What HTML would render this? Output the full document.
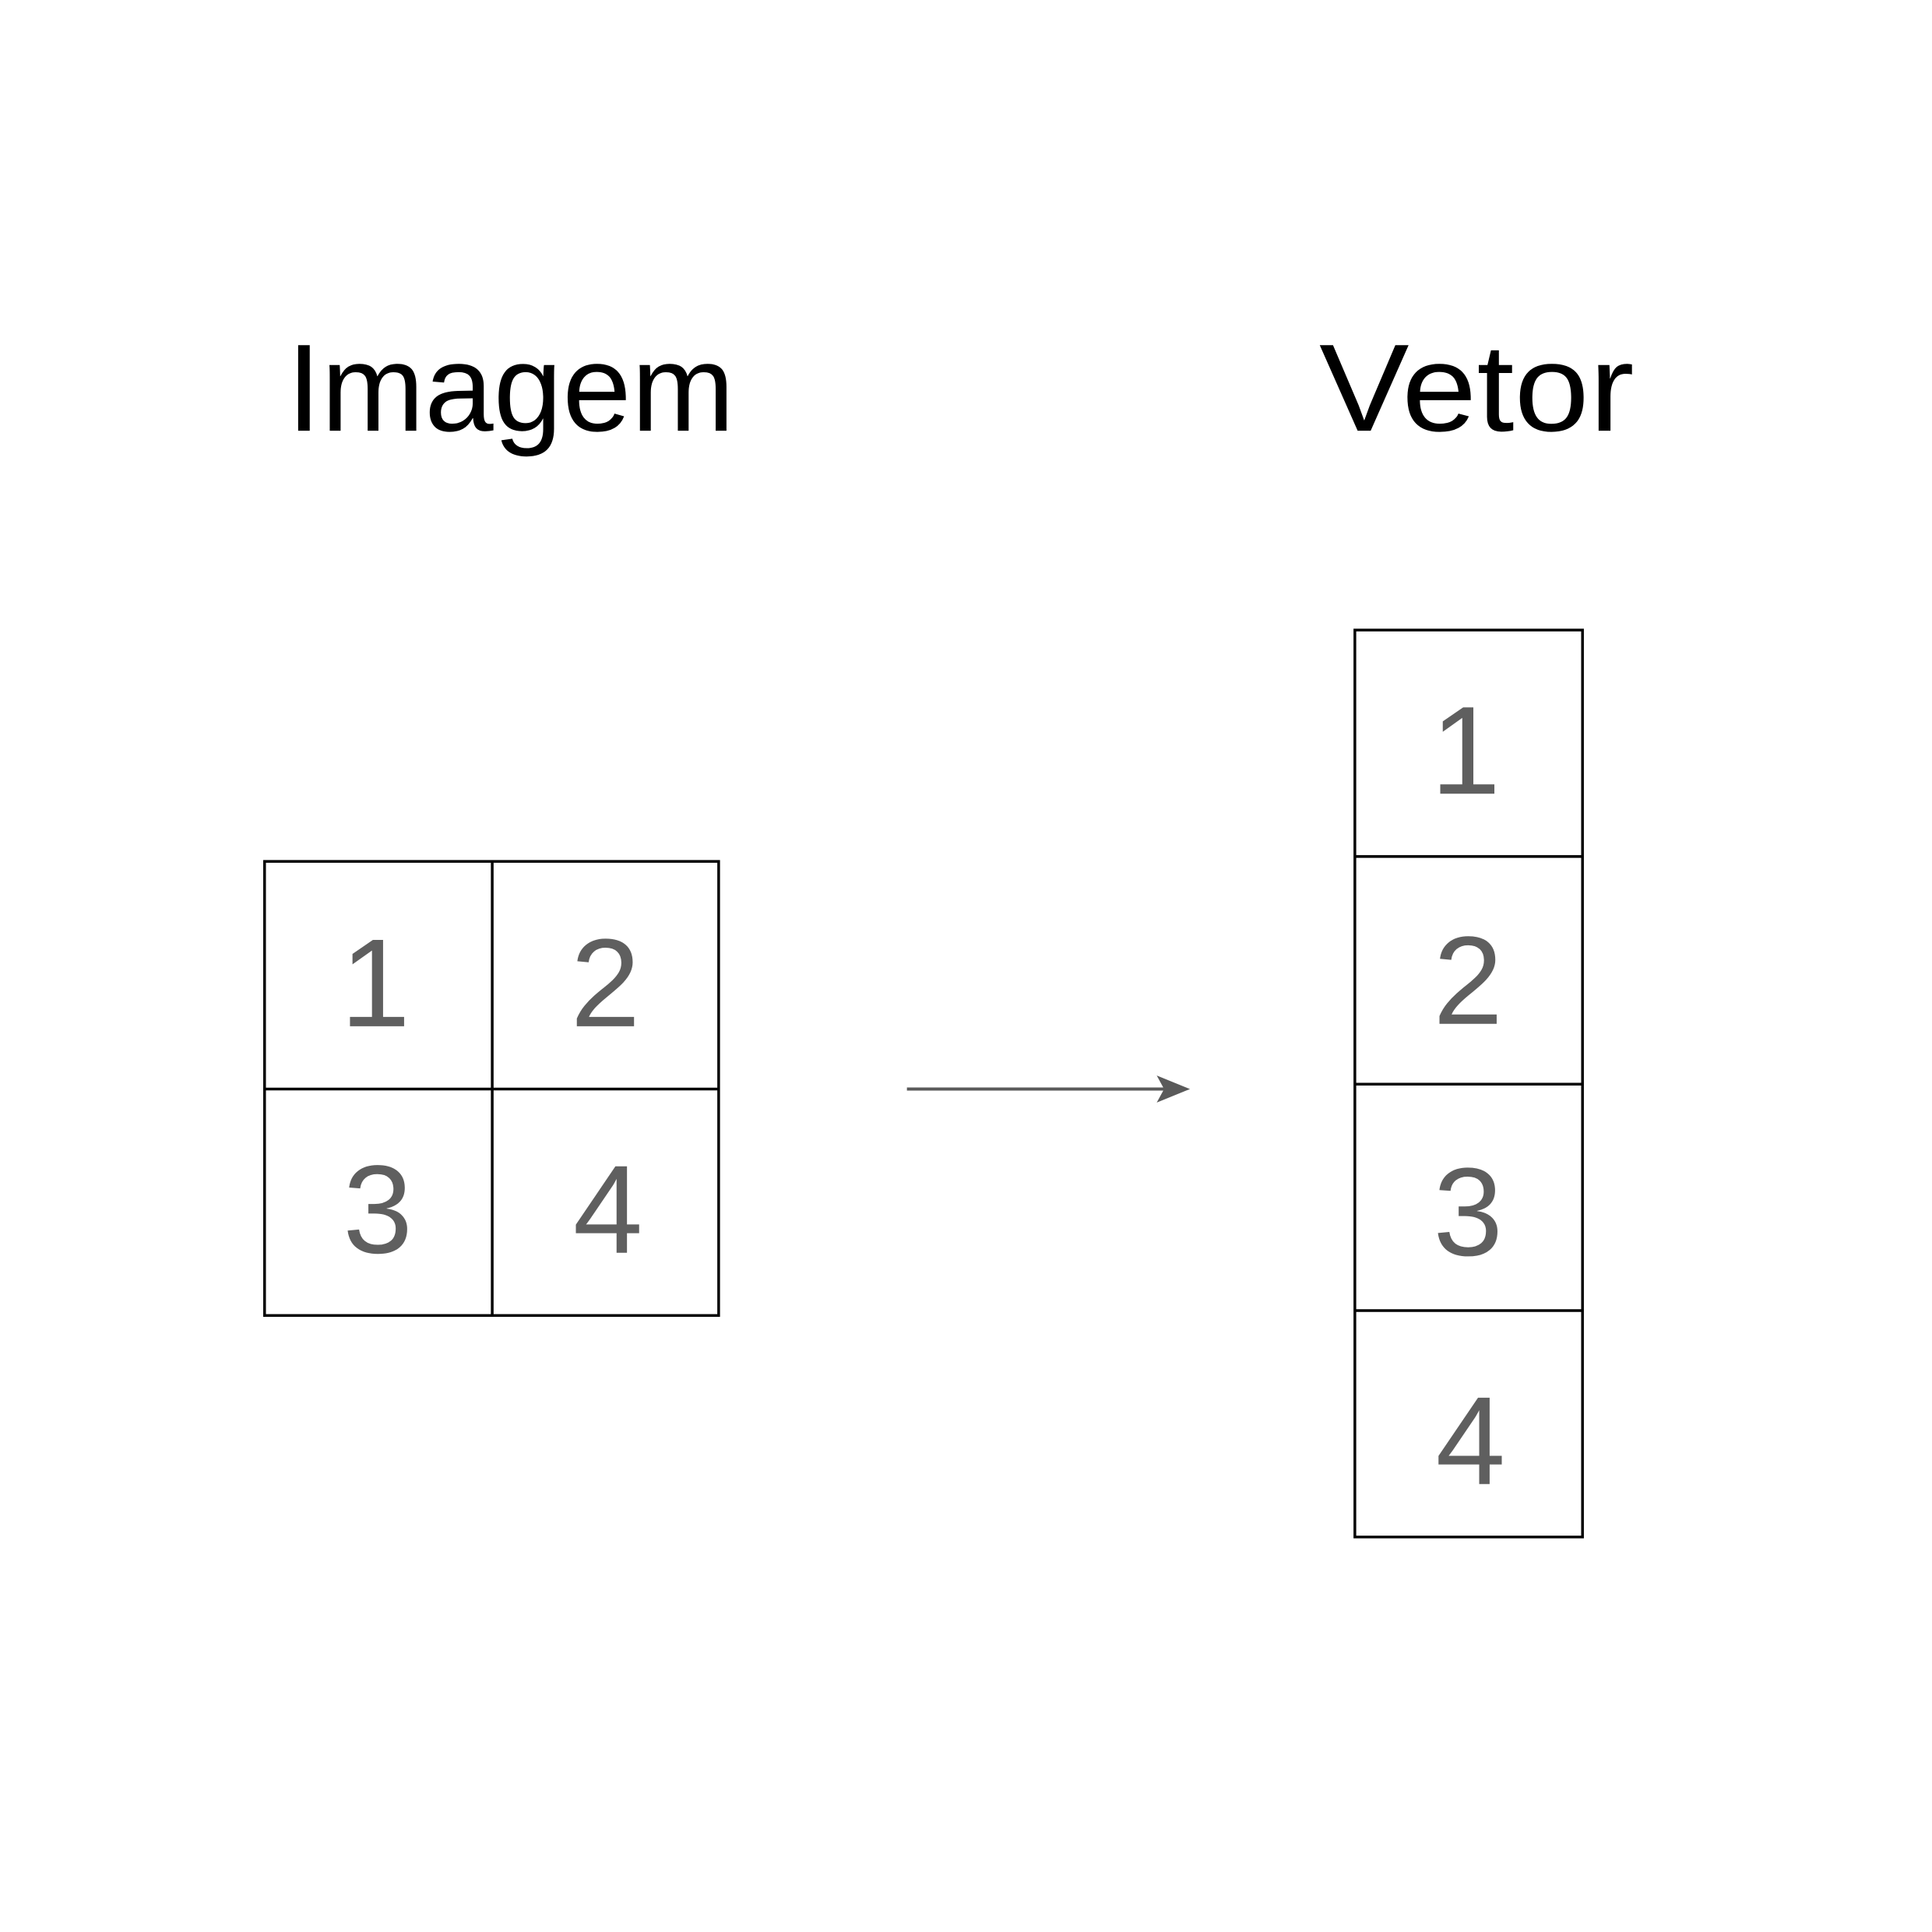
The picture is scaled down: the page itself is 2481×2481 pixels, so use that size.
<!DOCTYPE html>
<html>
<head>
<meta charset="utf-8">
<style>
  html, body { margin: 0; padding: 0; background: #fff; }
  svg { display: block; }
  text { font-family: "Liberation Sans", "DejaVu Sans", sans-serif; }
</style>
</head>
<body>
<svg width="2481" height="2481" viewBox="0 0 1570 1570" xmlns="http://www.w3.org/2000/svg">
  <rect width="1570" height="1570" fill="#fff"/>
  <text x="233" y="350" font-size="101" fill="#000" textLength="364" lengthAdjust="spacingAndGlyphs">Imagem</text>
  <text x="1072" y="350" font-size="101" fill="#000" textLength="256" lengthAdjust="spacingAndGlyphs">Vetor</text>

  <g fill="none" stroke="#000" stroke-width="2.2">
    <rect x="215" y="700" width="369" height="369"/>
    <line x1="400" y1="700" x2="400" y2="1069"/>
    <line x1="215" y1="885" x2="584" y2="885"/>
  </g>
  <g font-size="102" fill="#5f5f5f" text-anchor="middle">
    <text x="305" y="834">1</text>
    <text x="492" y="834">2</text>
    <text x="307" y="1018">3</text>
    <text x="494" y="1018">4</text>
  </g>

  <g>
    <line x1="737" y1="885" x2="948" y2="885" stroke="#5a5a5a" stroke-width="2.5"/>
    <path d="M940 874 L967 885 L940 896 L946 885 Z" fill="#5a5a5a"/>
  </g>

  <g fill="none" stroke="#000" stroke-width="2.2">
    <rect x="1101" y="512" width="185" height="737"/>
    <line x1="1101" y1="696" x2="1286" y2="696"/>
    <line x1="1101" y1="881" x2="1286" y2="881"/>
    <line x1="1101" y1="1065" x2="1286" y2="1065"/>
  </g>
  <g font-size="102" fill="#5f5f5f" text-anchor="middle">
    <text x="1191" y="645">1</text>
    <text x="1193" y="832">2</text>
    <text x="1193" y="1020">3</text>
    <text x="1195" y="1206">4</text>
  </g>
</svg>
</body>
</html>
